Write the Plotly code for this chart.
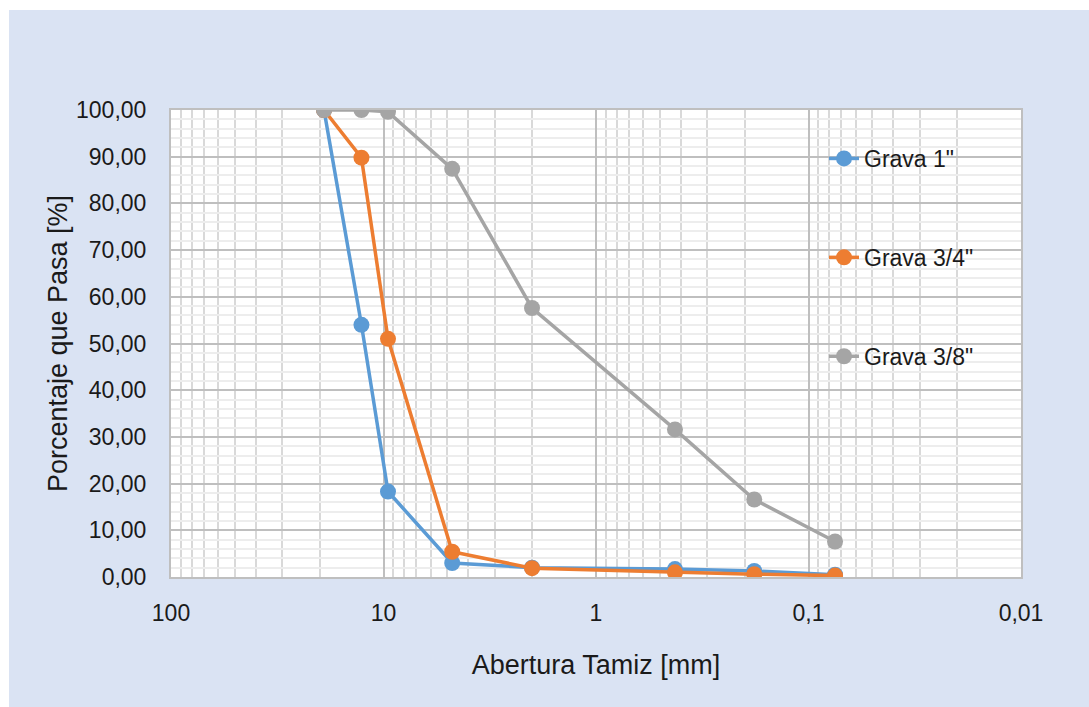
import plotly.graph_objects as go

# Sieve openings (mm) and percent passing for each gravel sample
abertura_mm = [19.05, 12.7, 9.525, 4.75, 2.0, 0.425, 0.18, 0.075]
grava_1 = [100.0, 54.0, 18.3, 3.0, 2.0, 1.7, 1.3, 0.5]
grava_3_4 = [100.0, 89.8, 51.0, 5.4, 1.9, 1.0, 0.6, 0.3]
grava_3_8 = [100.0, 100.0, 99.6, 87.4, 57.6, 31.6, 16.6, 7.6]

series_names = ['Grava 1"', 'Grava 3/4"', 'Grava 3/8"']
series_colors = ["#5B9BD5", "#ED7D31", "#A5A5A5"]

x_tick_vals = [100, 10, 1, 0.1, 0.01]
x_tick_text = ["100", "10", "1", "0,1", "0,01"]
x_minor_vals = [m * d for d in (0.01, 0.1, 1, 10) for m in range(2, 10)]

FONT = "Liberation Sans, Arial, sans-serif"

fig = go.Figure()
for name, color, values in zip(series_names, series_colors, [grava_1, grava_3_4, grava_3_8]):
    fig.add_trace(go.Scatter(
        x=abertura_mm, y=values, name=name, legendgroup=name,
        mode="lines+markers",
        line=dict(color=color, width=3.5),
        marker=dict(color=color, size=16),
    ))

# Plot-area geometry in pixels (for the outer panel rectangle)
W, H = 1089, 707
L, R, T, B = 171, 68, 110, 130
pw, ph = W - L - R, H - T - B

fig.update_layout(
    width=W, height=H,
    margin=dict(l=L, r=R, t=T, b=B),
    paper_bgcolor="white",
    plot_bgcolor="white",
    separators=",.",
    font=dict(family=FONT, size=23, color="#1a1a1a"),
    showlegend=True,
    legend=dict(
        x=(824 - L) / pw, xanchor="left",
        y=(577 - 137) / ph, yanchor="top",
        bgcolor="rgba(0,0,0,0)",
        font=dict(size=23, color="#1a1a1a"),
        tracegroupgap=66,
    ),
    shapes=[
        # light-blue chart panel
        dict(type="rect", xref="paper", yref="paper", layer="below",
             x0=(9 - L) / pw, x1=(W - L) / pw,
             y0=-B / ph, y1=(ph + T - 10) / ph,
             fillcolor="#DAE3F3", line=dict(width=0)),
        # white plot area
        dict(type="rect", xref="paper", yref="paper", layer="below",
             x0=0, x1=1, y0=0, y1=1,
             fillcolor="white", line=dict(width=0)),
    ],
)

fig.update_xaxes(
    type="log",
    range=[2, -2],
    tickvals=x_tick_vals, ticktext=x_tick_text,
    ticks="outside", ticklen=14, tickcolor="rgba(0,0,0,0)",
    showgrid=True, gridcolor="#BFBFBF", gridwidth=1.5,
    minor=dict(tickvals=x_minor_vals, showgrid=True, gridcolor="#D9D9D9", gridwidth=1.5),
    showline=True, linecolor="#BFBFBF", linewidth=2, mirror=True,
    zeroline=False,
    title=dict(text="Abertura Tamiz [mm]", font=dict(size=27), standoff=31),
    tickfont=dict(size=23),
)
fig.update_yaxes(
    range=[0, 100],
    dtick=10, tickformat=".2f",
    ticks="outside", ticklen=18, tickcolor="rgba(0,0,0,0)",
    showgrid=True, gridcolor="#BFBFBF", gridwidth=1.5,
    minor=dict(dtick=2, showgrid=True, gridcolor="#EDEDED", gridwidth=1.5),
    showline=True, linecolor="#BFBFBF", linewidth=2, mirror=True,
    zeroline=False,
    title=dict(text="Porcentaje que Pasa [%]", font=dict(size=27), standoff=1),
    tickfont=dict(size=23),
)

fig.write_html("out.html")
